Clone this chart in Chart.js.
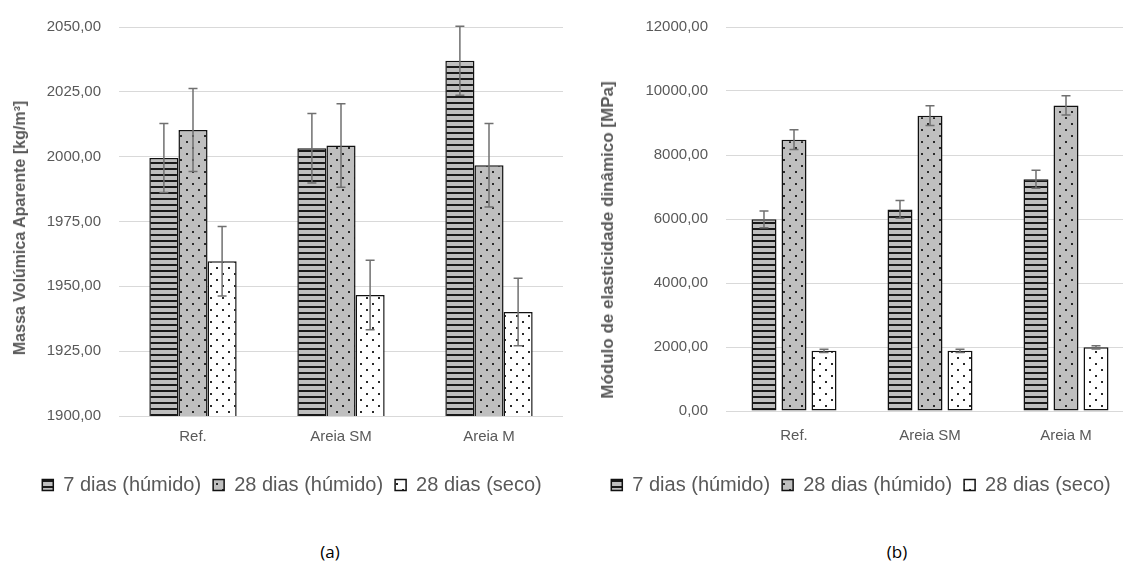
<!DOCTYPE html>
<html><head><meta charset="utf-8">
<script src="https://cdn.jsdelivr.net/npm/chart.js@4.4.1/dist/chart.umd.min.js"></script>
<style>
html,body{margin:0;padding:0;background:#fff;}
body{width:1123px;height:563px;overflow:hidden;position:relative;font-family:"Liberation Sans",Arial,sans-serif;}
canvas{position:absolute;top:0;}
.ytitle{position:absolute;transform:translate(-50%,-50%) rotate(-90deg);white-space:nowrap;font-weight:bold;color:#595959;}
.cap{position:absolute;transform:translate(-50%,-50%);font-family:"Open Sans",sans-serif;font-size:17px;color:#000;}
</style></head><body>
<canvas id="c1" width="542" height="506" style="left:21px"></canvas>
<canvas id="c2" width="546" height="506" style="left:588px"></canvas>
<div class="ytitle" style="left:20px;top:228px;font-size:16px">Massa Volúmica Aparente [kg/m³]</div>
<div class="ytitle" style="left:608px;top:240px;font-size:17px">Módulo de elasticidade dinâmico [MPa]</div>
<div class="cap" style="left:330px;top:551px">(a)</div>
<div class="cap" style="left:897px;top:551px">(b)</div>
<script>
const categories = ['Ref.', 'Areia SM', 'Areia M'];
const seriesNames = ['7 dias (húmido)', '28 dias (húmido)', '28 dias (seco)'];

// (a) Massa volúmica aparente [kg/m3]
const densH7 = [1999.5, 2003.2, 2037.0];
const densH28 = [2010.3, 2004.3, 1996.7];
const densS28 = [1959.7, 1946.7, 1940.1];
const densErrH7 = [13.3, 13.4, 13.3];
const densErrH28 = [16.0, 16.1, 16.1];
const densErrS28 = [13.4, 13.4, 13.0];
const densTicks = [1900, 1925, 1950, 1975, 2000, 2025, 2050];

// (b) Modulo de elasticidade dinamico [MPa]
const modH7 = [5990, 6300, 7240];
const modH28 = [8480, 9230, 9550];
const modS28 = [1880, 1880, 1990];
const modErrH7 = [260, 280, 280];
const modErrH28 = [310, 310, 300];
const modErrS28 = [50, 50, 50];
const modTicks = [0, 2000, 4000, 6000, 8000, 10000, 12000];

Chart.defaults.font.family = "'Liberation Sans', Arial, sans-serif";
Chart.defaults.color = '#595959';

function stripePattern() {
  const c = document.createElement('canvas'); c.width = 6; c.height = 6;
  const g = c.getContext('2d');
  g.fillStyle = '#bfbfbf'; g.fillRect(0, 0, 6, 6);
  g.fillStyle = '#1a1a1a'; g.fillRect(0, 0, 6, 2);
  return g.createPattern(c, 'repeat');
}
function dotPattern(bg) {
  const c = document.createElement('canvas'); c.width = 12; c.height = 12;
  const g = c.getContext('2d');
  g.fillStyle = bg; g.fillRect(0, 0, 12, 12);
  g.fillStyle = '#2a2a2a';
  g.fillRect(3, 3, 2, 2); g.fillRect(9, 9, 2, 2);
  return g.createPattern(c, 'repeat');
}
const fills = [stripePattern(), dotPattern('#bfbfbf'), dotPattern('#ffffff')];

const errorBars = {
  id: 'errorBars',
  afterDatasetsDraw(chart, args, opts) {
    const ctx = chart.ctx, ys = chart.scales.y;
    chart.data.datasets.forEach((ds, i) => {
      const meta = chart.getDatasetMeta(i);
      if (meta.hidden) return;
      meta.data.forEach((bar, j) => {
        const v = ds.data[j], e = ds.errors[j];
        const yt = ys.getPixelForValue(v + e), yb = ys.getPixelForValue(v - e);
        const cap = opts.cap;
        ctx.save();
        ctx.strokeStyle = '#707070'; ctx.lineWidth = 1.5;
        ctx.beginPath();
        ctx.moveTo(bar.x, yt); ctx.lineTo(bar.x, yb);
        ctx.moveTo(bar.x - cap, yt); ctx.lineTo(bar.x + cap, yt);
        ctx.moveTo(bar.x - cap, yb); ctx.lineTo(bar.x + cap, yb);
        ctx.stroke();
        ctx.restore();
      });
    });
  }
};

const fmt = v => Number(v).toFixed(2).replace('.', ',');

function makeChart(id, series, errs, ticks, o) {
  const datasets = series.map((d, i) => ({
    label: seriesNames[i], data: d, errors: errs[i],
    backgroundColor: fills[i], borderColor: '#111', borderWidth: 1.5, borderSkipped: false,
    barPercentage: o.barPct, categoryPercentage: o.catPct
  }));
  return new Chart(document.getElementById(id), {
    type: 'bar',
    data: { labels: categories, datasets },
    options: {
      responsive: false, animation: false, devicePixelRatio: 1,
      layout: { padding: { top: o.top, right: o.right, bottom: 1, left: 0 } },
      plugins: {
        legend: {
          position: 'bottom',
          labels: { boxWidth: 11, boxHeight: 11, padding: 12, color: '#595959', font: { size: 20 } }
        },
        tooltip: { enabled: false },
        errorBars: { cap: o.cap }
      },
      scales: {
        x: {
          grid: { display: false, drawTicks: false }, border: { display: false },
          ticks: { color: '#595959', font: { size: 15 }, padding: o.xpad },
          afterFit(s) { s.height = o.xh; }
        },
        y: {
          min: ticks[0], max: ticks[ticks.length - 1],
          grid: { color: '#d9d9d9', drawTicks: false, lineWidth: 1 }, border: { display: false },
          afterBuildTicks(s) { s.ticks = ticks.map(v => ({ value: v })); },
          ticks: { color: '#595959', font: { size: 15 }, padding: 18, callback: fmt },
          afterFit(s) { s.width = o.yw; }
        }
      }
    },
    plugins: [errorBars]
  });
}

makeChart('c1', [densH7, densH28, densS28], [densErrH7, densErrH28, densErrS28], densTicks,
  { barPct: 1.0, catPct: 0.59, cap: 4.5, top: 21, right: 0, yw: 98, xpad: 12, xh: 47 });
makeChart('c2', [modH7, modH28, modS28], [modErrH7, modErrH28, modErrS28], modTicks,
  { barPct: 0.833, catPct: 0.662, cap: 4.5, top: 21, right: 0, yw: 138, xpad: 16, xh: 52 });
</script>
</body></html>
